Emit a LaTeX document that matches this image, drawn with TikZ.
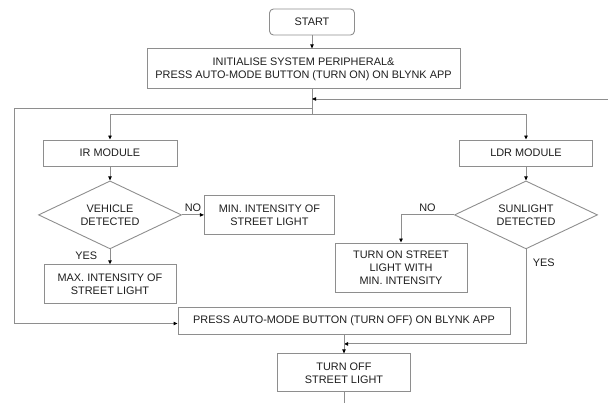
\documentclass[tikz,border=0pt]{standalone}
\usepackage{fontspec}
\setmainfont{Liberation Sans}
\usetikzlibrary{arrows.meta,positioning,calc,shapes.geometric}
\definecolor{lgray}{HTML}{8E8E8E}
\definecolor{txt}{HTML}{1E1E1E}
\tikzset{
  >={Triangle[length=4pt,width=3.4pt,color=black]},
  box/.style={draw=lgray,line width=0.9pt,inner sep=2pt,align=center,font=\fontsize{10.9}{13}\selectfont,text=txt},
  term/.style={box,rounded corners=4pt},
  dec/.style={box,shape=diamond,aspect=2,inner sep=0pt,minimum width=143pt,minimum height=68pt},
  lab/.style={font=\fontsize{10.9}{13}\selectfont,text=txt},
  arr/.style={->,draw=lgray,line width=0.9pt},
  wire/.style={draw=lgray,line width=0.9pt},
}
\begin{document}
\begin{tikzpicture}[x=1pt,y=-1pt]
\useasboundingbox (0,0) rectangle (608,403);
\node[term,minimum width=85pt,minimum height=26pt] (start) at (312,22) {START};
\node[box,minimum width=313pt,minimum height=40pt,below=13pt of start,xshift=-8.5pt] (init) {INITIALISE SYSTEM PERIPHERAL\&\\PRESS AUTO-MODE BUTTON (TURN ON) ON BLYNK APP};
\node[box,minimum width=134pt,minimum height=26pt] (ir) at (110,153) {IR MODULE};
\node[box,minimum width=133pt,minimum height=26pt] (ldr) at (526,153) {LDR MODULE};
\node[dec,below=14pt of ir] (veh) {VEHICLE\\DETECTED};
\node[box,minimum width=130pt,minimum height=39pt,right=22pt of veh] (minl) {MIN. INTENSITY OF\\STREET LIGHT};
\node[box,minimum width=132pt,minimum height=39pt,below=15pt of veh] (maxl) {MAX. INTENSITY OF\\STREET LIGHT};
\node[dec,below=14pt of ldr] (sun) {SUNLIGHT\\DETECTED};
\node[box,minimum width=132pt,minimum height=49pt] (on) at (401,267.5) {TURN ON STREET\\LIGHT WITH\\MIN. INTENSITY};
\node[box,minimum width=332pt,minimum height=27pt] (off) at (344,320.5) {PRESS AUTO-MODE BUTTON (TURN OFF) ON BLYNK APP};
\node[box,minimum width=133pt,minimum height=38pt,below=19pt of off] (stop) {TURN OFF\\STREET LIGHT};
% junctions
\coordinate (jn) at (312,99);
\coordinate (lp) at (312,108);
\coordinate (sp) at (312,114);
\coordinate (rt) at (608,99);
\coordinate (lc) at (14,108);
\coordinate (mg) at ($(off.south)!0.5!(stop.north)$);
\coordinate (bot) at ($(stop.south)+(0,12)$);
\draw[arr] (start) -- (start |- init.north);
\draw[wire] (start |- init.south) -- (sp);
\draw[arr] (rt) -- (jn);
\draw[arr] (lp) -- (lc) |- ([yshift=-3pt]off.west);
\draw[arr] (sp) -| (ir); \draw[arr] (sp) -| (ldr);
\draw[arr] (ir) -- (veh); \draw[arr] (ldr) -- (sun);
\draw[arr] (veh) -- node[lab,above]{NO} (minl);
\draw[arr] (veh) -- node[lab,left=9pt,pos=0.4]{YES} (maxl);
\draw[arr] (sun) -| node[lab,above,pos=0.25]{NO} (on);
\draw[arr] (sun) |- node[lab,right=3pt,pos=0.07]{YES} (mg);
\draw[arr] (off) -- (stop);
\draw[wire] (stop) -- (bot);
\end{tikzpicture}
\end{document}
